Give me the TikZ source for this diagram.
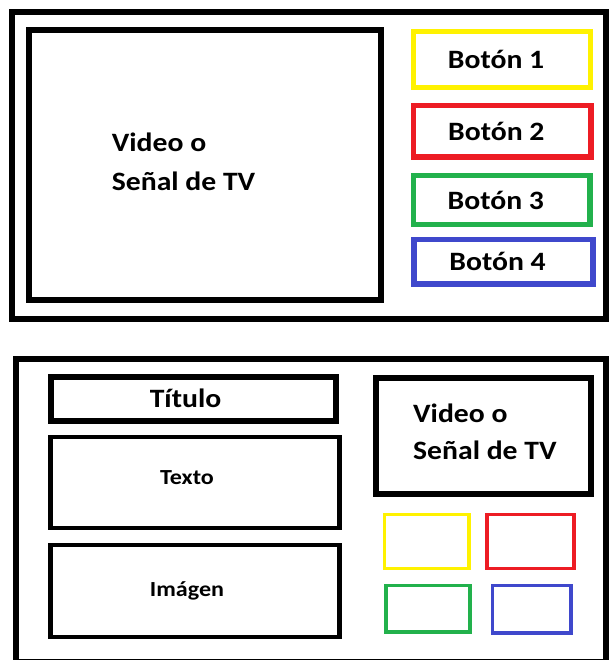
\documentclass[tikz,border=0pt]{standalone}
\usepackage{fontspec}
\setmainfont{Carlito}[FakeStretch=1.12]
\definecolor{amarillo}{RGB}{255,242,0}
\definecolor{rojo}{RGB}{237,28,36}
\definecolor{verde}{RGB}{34,177,76}
\definecolor{azul}{RGB}{63,72,204}

\begin{document}
\begin{tikzpicture}[x=1pt,y=-1pt,
  caja/.style={draw,rectangle,inner sep=0pt,outer sep=0pt},
  marco/.style={caja,line width=6pt},
  panel/.style={caja,line width=4.5pt},
  boton/.style={caja,line width=5.5pt},
  mini/.style={caja,line width=3.5pt},
  rotulo/.style={font=\bfseries\fontsize{26.5}{39}\selectfont,align=left,inner sep=0pt},
  btxt/.style={font=\bfseries\fontsize{26.5}{30}\selectfont,inner sep=0pt,xshift=-6pt},
  ptxt/.style={font=\bfseries\fontsize{21.5}{26}\selectfont,inner sep=0pt,xshift=-8pt}]

  \useasboundingbox (0,0) rectangle (608,660);

  % pantalla de arriba
  \node[marco,minimum width=593.5pt,minimum height=307pt] (tv) at (308.75,165.5) {};
  \node[marco,minimum width=352.5pt,minimum height=269pt] (video) at (204.75,165) {};
  \node[rotulo,anchor=north west] (senal) at (111.7,133) {Video o\\Señal de TV};

  \node[boton,draw=amarillo,minimum width=177pt,minimum height=56pt] (b1) at (502,59.5)
    {}; \node[btxt] (t1) at (b1) {Botón 1};
  \node[boton,draw=rojo,minimum width=177.5pt,minimum height=51.5pt] (b2) at (502.25,131.25)
    {}; \node[btxt] (t2) at (b2) {Botón 2};
  \node[boton,draw=verde,minimum width=176.5pt,minimum height=49pt] (b3) at (501.75,200)
    {}; \node[btxt] (t3) at (b3) {Botón 3};
  \node[boton,draw=azul,minimum width=179pt,minimum height=44.5pt] (b4) at (503.5,261.75)
    {}; \node[btxt] (t4) at (b4) {Botón 4};

  % pantalla de abajo
  \node[marco,minimum width=590.5pt,minimum height=303.5pt] (tv2) at (310.75,510.25) {};
  \node[marco,minimum width=285pt,minimum height=43.5pt] (titulo) at (193.5,398.75) {};
  \node[ptxt,font=\bfseries\fontsize{26.5}{30}\selectfont] (ttit) at (titulo) {Título};
  \node[panel,minimum width=289pt,minimum height=91pt] (texto) at (195,482.5) {};
  \node[ptxt,yshift=5pt] (ttex) at (texto) {Texto};
  \node[panel,minimum width=289pt,minimum height=92pt] (imagen) at (195,591) {};
  \node[ptxt] (timg) at (imagen) {Imágen};
  \node[marco,minimum width=214.5pt,minimum height=116.5pt] (video2) at (483.25,435.75) {};
  \node[rotulo,font=\bfseries\fontsize{26.5}{37}\selectfont,anchor=north west] (senal2) at (413,403.8) {Video o\\Señal de TV};

  \node[mini,draw=amarillo,minimum width=84.5pt,minimum height=54pt] (m1) at (426.75,541.5) {};
  \node[mini,draw=rojo,minimum width=87pt,minimum height=54.2pt] (m2) at (530.5,541.6) {};
  \node[mini,draw=verde,minimum width=84pt,minimum height=46.3pt] (m3) at (428,608.85) {};
  \node[mini,draw=azul,minimum width=78.5pt,minimum height=47.3pt] (m4) at (531.75,609.35) {};

\end{tikzpicture}
\end{document}
